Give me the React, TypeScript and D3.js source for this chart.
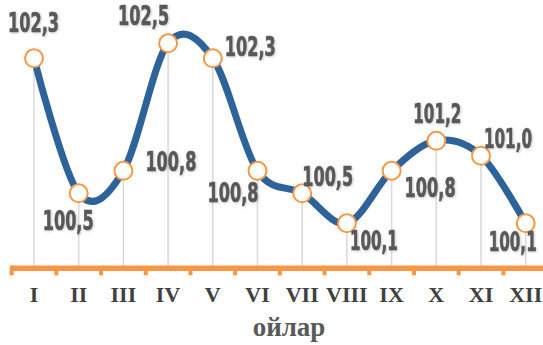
import React from "react";
import * as d3 from "d3";

const months = ["I", "II", "III", "IV", "V", "VI", "VII", "VIII", "IX", "X", "XI", "XII"];
const values = [102.3, 100.5, 100.8, 102.5, 102.3, 100.8, 100.5, 100.1, 100.8, 101.2, 101.0, 100.1];
const labels = ["102,3", "100,5", "100,8", "102,5", "102,3", "100,8", "100,5", "100,1", "100,8", "101,2", "101,0", "100,1"];
// label placement relative to the point: [dx (left edge), dy (baseline)]
const labelPos: [number, number][] = [
  [-26, -26],
  [-36, 37],
  [22, 0],
  [-50, -18],
  [12, -2],
  [-50, 31],
  [0, -7],
  [3, 27],
  [13, 26],
  [-23, -18],
  [3, -8],
  [-37, 28],
];
const xTitle = "ойлар";

export default function App() {
  const W = 543, H = 345;
  const x = d3.scaleBand<string>().domain(months).range([11.65, 548.05]).padding(0);
  const y = d3.scaleLinear().domain([99.5, 102.5]).range([268.3, 43.3]);
  const cx = (m: string) => (x(m) as number) + x.bandwidth() / 2;
  const pts: [number, number][] = months.map((m, i) => [cx(m), y(values[i])]);
  const line = d3.line().curve(d3.curveCatmullRom.alpha(0));
  const axisY = y(99.5);
  const boundaries = d3.range(months.length + 1).map(i => 11.65 + i * x.step());
  return (
    <svg width={W} height={H} style={{ position: "absolute", left: 0, top: 0, background: "#fff" }}>
      <defs>
        <filter id="sh" x="-10%" y="-20%" width="120%" height="150%">
          <feDropShadow dx="1" dy="1" stdDeviation="0.8" floodColor="#000" floodOpacity="0.2" />
        </filter>
      </defs>
      {pts.map((p, i) => (
        <line key={"g" + i} x1={p[0]} x2={p[0]} y1={p[1]} y2={axisY} stroke="#D9D9D9" strokeWidth={1.5} />
      ))}
      <line x1={10} x2={W} y1={axisY} y2={axisY} stroke="#F79646" strokeWidth={5.5} />
      {boundaries.map((b, i) => (
        <rect key={"t" + i} x={b - 2} y={axisY} width={4} height={7} fill="#F79646" />
      ))}
      <path d={line(pts) || ""} fill="none" stroke="#2E6399" strokeWidth={7} strokeLinejoin="round" strokeLinecap="round" />
      {pts.map((p, i) => (
        <circle key={"c" + i} cx={p[0]} cy={p[1]} r={9} fill="#fff" stroke="#F79646" strokeWidth={2} />
      ))}
      {pts.map((p, i) => (
        <text key={"l" + i} x={p[0] + labelPos[i][0]} y={p[1] + labelPos[i][1]} textAnchor="start"
          fontFamily="'DejaVu Sans', sans-serif" fontWeight="bold" fontSize={27}
          textLength={labels[i].includes("1,") || labels[i].endsWith(",1") ? 48 : 51} lengthAdjust="spacingAndGlyphs"
          fill="#595959" stroke="#595959" strokeWidth={0.7} filter="url(#sh)">
          {labels[i]}
        </text>
      ))}
      {months.map(m => (
        <text key={"x" + m} x={cx(m)} y={302} textAnchor="middle" fontFamily="'Liberation Serif', 'Times New Roman', serif"
          fontWeight="bold" fontSize={22} fill="#404040">{m}</text>
      ))}
      <text x={289} y={336} textAnchor="middle" fontFamily="'Liberation Serif', 'Times New Roman', serif" fontWeight="bold"
        fontSize={27} fill="#595959">{xTitle}</text>
    </svg>
  );
}
